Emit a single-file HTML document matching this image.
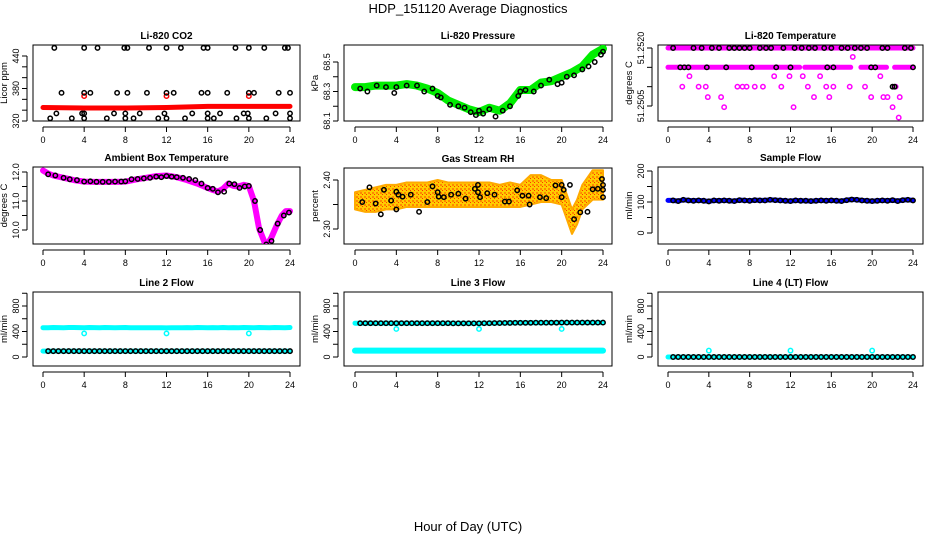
<!DOCTYPE html>
<html><head><meta charset="utf-8">
<style>
html,body{margin:0;padding:0;background:#fff;}
svg{display:block;font-family:"Liberation Sans",Arial,sans-serif;}
.t{font-size:10px;font-weight:bold;text-anchor:middle;}
.tk{font-size:9px;text-anchor:middle;}
.yl{font-size:9.5px;text-anchor:middle;}
</style></head>
<body>
<svg id="c" width="936" height="540" viewBox="0 0 936 540" xmlns="http://www.w3.org/2000/svg">
<text x="468" y="13" font-size="13" text-anchor="middle">HDP_151120  Average Diagnostics</text>
<text x="468" y="531" font-size="13" text-anchor="middle">Hour of Day (UTC)</text>
</svg>
<script>
// ---- data ----
var hourTicks=[0,4,8,12,16,20,24];
var halfHours=[0.5,1,1.5,2,2.5,3,3.5,4,4.5,5,5.5,6,6.5,7,7.5,8,8.5,9,9.5,10,10.5,11,11.5,12,12.5,13,13.5,14,14.5,15,15.5,16,16.5,17,17.5,18,18.5,19,19.5,20,20.5,21,21.5,22,22.5,23,23.5,24];
// CO2
var co2LineH=[0,4,8,12,16,20,24];
var co2LineV=[345,344,344,345,347,347,347];
var co2RedH=[4,12,20];
var co2RedV=[366,366,366];
var co2TopH=[1.1,4,5.3,7.9,8.2,10.3,12,13.4,15.6,16,18.7,20,21.5,23.5,23.8];
var co2TopV=[455,455,455,455,455,455,455,455,455,455,455,455,455,455,455];
var co2MidH=[1.8,4,4.6,7.2,8.2,10.1,12,12.7,15.4,16,17.9,20,20.5,22.9,24];
var co2MidV=[372,372,372,372,372,372,372,372,372,372,372,372,372,372,372];
var co2LowH=[1.3,3.8,4,6.9,8,9.4,11.8,14.5,16,17.2,19.5,19.9,22.6,24];
var co2LowV=[334,334,334,334,334,334,334,334,334,334,334,334,334,334];
var co2BotH=[0.7,2.8,4,6.2,8,8.8,11.2,12,13.8,16,16.6,18.8,20,21.7,24];
var co2BotV=[325,325,325,325,325,325,325,325,325,325,325,325,325,325,325];
// Pressure
var presH=[0,1,2,3,4,5,6,7,8,9,10,11,12,13,14,15,16,17,18,19,20,21,22,23,24];
var presV=[68.33,68.33,68.34,68.34,68.34,68.35,68.34,68.32,68.29,68.24,68.21,68.18,68.16,68.19,68.17,68.22,68.31,68.31,68.36,68.37,68.40,68.43,68.47,68.55,68.59];
var presPtH=[0.5,1.2,2.1,3,3.8,4,5,6,6.7,7.5,8,8.3,9.2,10,10.6,11.2,11.7,12,12.4,13,13.6,14.3,15,15.8,16,16.5,17.3,18,18.8,19.6,20,20.5,21.2,22,22.6,23.2,23.8,24];
var presPtV=[68.32,68.3,68.34,68.33,68.29,68.33,68.34,68.34,68.3,68.32,68.27,68.26,68.21,68.2,68.19,68.16,68.14,68.17,68.15,68.18,68.13,68.17,68.2,68.27,68.3,68.31,68.3,68.34,68.38,68.35,68.36,68.4,68.41,68.45,68.47,68.5,68.55,68.57];
// Li-820 temperature
var tmpTopSeg=[[0,24]];
var tmpMidSeg=[[0,12.9],[13.4,17.9],[18.9,21.4],[22.2,24]];
var tmpTopV=51.2520, tmpMidV=51.2515;
var tmpPtH=[1.4,2.1,3,3.7,3.9,5.2,5.5,6.8,7.3,7.7,8.5,9.3,10.4,11.1,11.9,12.3,13.2,13.7,14.3,14.9,15.5,15.8,16.2,17.8,18.1,19.3,19.9,20.8,21.1,21.5,22,22.3,22.7,22.6];
var tmpPtV=[51.2510,51.25127,51.2510,51.2510,51.25073,51.25073,51.25047,51.2510,51.2510,51.2510,51.2510,51.2510,51.25127,51.2510,51.25127,51.25047,51.25127,51.2510,51.25073,51.25127,51.2510,51.25073,51.2510,51.2510,51.25177,51.2510,51.25073,51.25127,51.25073,51.25073,51.25047,51.2510,51.25073,51.2502];
var tmpBlkH=[0.5,1.2,1.6,2,2.5,3.3,3.8,4.3,5,5.7,6,6.5,7,7.5,8,8.2,9,9.6,10.1,10.6,11.3,12,12.4,13.1,13.8,14.4,15.3,15.6,16,16.2,17,17.6,18.3,18.9,19.5,19.9,20.3,21,21.5,22,22.2,23.2,23.8,24];
var tmpBlkV=[51.2520,51.2515,51.2515,51.2515,51.2520,51.2520,51.2515,51.2520,51.2520,51.2515,51.2520,51.2520,51.2520,51.2520,51.2520,51.2515,51.2520,51.2520,51.2520,51.2515,51.2520,51.2515,51.2520,51.2520,51.2520,51.2520,51.2520,51.2515,51.2520,51.2515,51.2520,51.2520,51.2520,51.2520,51.2520,51.2515,51.2515,51.2520,51.2520,51.2510,51.2510,51.2520,51.2520,51.2515];
// Ambient box temperature
var ambH=[0,0.5,1,2,3,4,5,6,7,8,9,10,11,12,13,14,15,16,16.5,17,17.5,18,18.5,19,19.5,20,20.5,21,21.5,21.8,22.2,22.7,23.2,23.6,24];
var ambV=[12.05,11.95,11.88,11.8,11.72,11.67,11.66,11.66,11.66,11.67,11.74,11.8,11.86,11.88,11.82,11.72,11.6,11.45,11.38,11.33,11.42,11.6,11.52,11.5,11.56,11.52,11.0,10.05,9.6,9.5,9.75,10.15,10.5,10.65,10.65];
var ambPtH=[0.5,1.2,2,2.6,3.3,4,4.6,5.2,5.8,6.4,7,7.6,8,8.6,9.2,9.8,10.4,11,11.5,12,12.5,13,13.6,14.2,14.8,15.4,16,16.5,17,17.6,18.1,18.6,19.1,19.6,20,20.6,21.1,21.7,22.2,22.8,23.4,23.9];
var ambPtV=[11.92,11.88,11.8,11.75,11.72,11.67,11.68,11.66,11.66,11.66,11.67,11.67,11.68,11.75,11.76,11.78,11.8,11.84,11.82,11.86,11.84,11.82,11.8,11.76,11.72,11.6,11.45,11.42,11.3,11.32,11.6,11.58,11.45,11.5,11.52,11.0,10.0,9.5,9.62,10.22,10.5,10.6];
// Gas stream RH
var rhH=[0,1,2,3,4,5,6,7,8,9,10,11,12,13,14,15,16,17,18,19,20,20.5,21,21.5,22,23,24];
var rhUp=[2.375,2.38,2.385,2.39,2.39,2.395,2.395,2.395,2.4,2.395,2.395,2.395,2.395,2.395,2.39,2.395,2.39,2.41,2.41,2.4,2.4,2.37,2.34,2.36,2.39,2.42,2.42];
var rhLo=[2.34,2.335,2.335,2.34,2.34,2.345,2.345,2.345,2.345,2.345,2.345,2.345,2.345,2.345,2.345,2.345,2.345,2.35,2.355,2.355,2.35,2.32,2.29,2.31,2.34,2.36,2.36];
var rhPtH=[0.7,1.4,2,2.5,2.8,3.5,4,4,4.2,4.6,5.4,6.2,7,7.5,8,8.1,8.6,9.3,10,10.7,11.6,11.9,11.9,12.1,12.8,13.5,14.5,14.9,15.7,16.2,16.8,16.9,17.9,18.5,19.4,20,20,20.2,20.8,21.2,21.8,22.5,23,23.5,23.9,24,24,24];
var rhPtV=[2.355,2.385,2.352,2.33,2.38,2.358,2.34,2.376,2.37,2.366,2.37,2.335,2.355,2.387,2.375,2.366,2.365,2.37,2.372,2.362,2.382,2.39,2.375,2.365,2.373,2.37,2.356,2.356,2.379,2.368,2.368,2.35,2.365,2.363,2.389,2.365,2.39,2.38,2.39,2.32,2.334,2.335,2.381,2.382,2.402,2.38,2.39,2.365];
// Flows (half-hour averages)
var sampleV=[105,103,107,105,104,105,104,102,105,104,105,104,103,106,105,104,106,105,105,107,106,105,104,103,105,104,104,103,104,105,104,105,104,103,106,108,107,105,104,103,104,105,104,106,103,106,107,105];
var l2HiV=[460,462,461,460,463,462,461,460,462,461,460,462,461,460,461,462,460,458,458,459,459,458,458,457,458,459,460,461,460,462,461,460,461,460,462,460,461,460,462,461,460,462,461,460,462,461,460,462];
var l2LoV=[92,92,92,92,92,92,92,92,92,92,92,92,92,92,92,92,92,92,92,92,92,92,92,92,92,92,92,92,92,92,92,92,92,92,92,92,92,92,92,92,92,92,92,92,92,92,92,92];
var l3HiV=[530,530,531,530,530,531,530,530,531,530,530,531,530,530,531,530,530,531,528,528,529,528,528,529,530,531,532,533,534,535,536,536,537,537,538,538,538,539,539,540,540,540,540,540,540,540,540,540];
var l3LoV=[100,100,100,100,100,100,100,100,100,100,100,100,100,100,100,100,100,100,100,100,100,100,100,100,100,100,100,100,100,100,100,100,100,100,100,100,100,100,100,100,100,100,100,100,100,100,100,100];
var l4V=[0,0,0,0,0,0,0,0,0,0,0,0,0,0,0,0,0,0,0,0,0,0,0,0,0,0,0,0,0,0,0,0,0,0,0,0,0,0,0,0,0,0,0,0,0,0,0,0];
var calH=[4,12,20];
var l2CalV=[370,370,370];
var l3CalV=[440,440,440];
var l4CalV=[100,100,100];

// ---- drawing ----
var svg=document.getElementById('c');
var NS='http://www.w3.org/2000/svg';
function el(tag,attrs,parent){var e=document.createElementNS(NS,tag);for(var k in attrs)e.setAttribute(k,attrs[k]);(parent||svg).appendChild(e);return e;}
function panel(o){
  var g=el('g',{});
  
  
  o.g=g;
  o.X=function(h){return o.x0+h*(o.x24-o.x0)/24;};
  o.Y=function(v){return o.ya+(v-o.va)*(o.yb-o.ya)/(o.vb-o.va);};
  var box=el('rect',{x:o.bx0,y:o.by0,width:o.bx1-o.bx0,height:o.by1-o.by0,fill:'none',stroke:'#000','stroke-width':1},g);
  
  
  var t=el('text',{x:(o.bx0+o.bx1)/2,y:o.by0-6,'class':'t'},g);t.textContent=o.title;
  
  
  var ax=el('g',{},g);
  
  
  var ty=o.by1+6;
  el('line',{x1:o.X(0),x2:o.X(24),y1:ty,y2:ty,stroke:'#000'},ax);
  hourTicks.forEach(function(h){
    el('line',{x1:o.X(h),x2:o.X(h),y1:ty,y2:ty+5,stroke:'#000'},ax);
    var l=el('text',{x:o.X(h),y:ty+16,'class':'tk'},ax);l.textContent=h;
    
    
  });
  var ay=el('g',{},g);
  
  
  var tx=o.bx0-6;
  var first=o.Y(o.yt[0]),last=o.Y(o.yt[o.yt.length-1]);
  el('line',{x1:tx,x2:tx,y1:first,y2:last,stroke:'#000'},ay);
  o.yt.forEach(function(v){var y=o.Y(v);el('line',{x1:tx,x2:tx-5,y1:y,y2:y,stroke:'#000'},ay);});
  o.yl.forEach(function(v){var y=o.Y(v);var l=el('text',{x:tx-8,y:y,'class':'tk',transform:'rotate(-90 '+(tx-8)+' '+y+')'},ay);l.textContent=o.fmt(v);
    
    });
  var yt=el('text',{x:o.bx0-26,y:(o.by0+o.by1)/2,'class':'yl',transform:'rotate(-90 '+(o.bx0-26)+' '+((o.by0+o.by1)/2)+')'},ay);yt.textContent=o.ylab;
  
  
  var cp='cp'+o.name;var d=el('clipPath',{id:cp},g);el('rect',{x:o.bx0,y:o.by0,width:o.bx1-o.bx0,height:o.by1-o.by0},d);
  o.pg=el('g',{'clip-path':'url(#'+cp+')'},g);
  return o;
}
function thick(o,H,V,col,w,name){
  var pts=H.map(function(h,i){return o.X(h).toFixed(1)+','+o.Y(V[i]).toFixed(1);}).join(' ');
  var p=el('polyline',{points:pts,fill:'none',stroke:col,'stroke-width':w,'stroke-linejoin':'round','stroke-linecap':'round'},o.pg);
  
  
}
function pts(o,H,V,col,name,r,sw){
  var g=el('g',{},o.pg);
  
  
  H.forEach(function(h,i){el('circle',{cx:o.X(h),cy:o.Y(V[i]),r:r||2.2,fill:'none',stroke:col,'stroke-width':sw||1.5},g);});
}
function seg(o,S,v,col,w,name){
  S.forEach(function(s){thick(o,[s[0],s[1]],[v,v],col,w,name);});
}
var f0=function(v){return String(v);};
var flowTicks=[0,200,400,600,800,1000],flowLabs=[0,400,800];

// Li-820 CO2
var p1=panel({name:'co2-panel',title:'Li-820 CO2',ylab:'Licor ppm',bx0:33,bx1:300,by0:45,by1:121,x0:43,x24:290,va:320,ya:121,vb:440,yb:56,yt:[320,340,360,380,400,420,440],yl:[320,380,440],fmt:f0});
thick(p1,co2LineH,co2LineV,'#ff0000',5,'co2-series');
pts(p1,co2RedH,co2RedV,'#ff0000','co2-cal-points');
pts(p1,co2TopH,co2TopV,'#000','co2-avg-high');
pts(p1,co2MidH,co2MidV,'#000','co2-avg-mid');
pts(p1,co2LowH,co2LowV,'#000','co2-avg-low');
pts(p1,co2BotH,co2BotV,'#000','co2-avg-bottom');

// Pressure
var p2=panel({name:'pressure-panel',title:'Li-820 Pressure',ylab:'kPa',bx0:344,bx1:612,by0:45,by1:121,x0:355,x24:603,va:68.1,ya:121,vb:68.5,yb:62,yt:[68.1,68.2,68.3,68.4,68.5],yl:[68.1,68.3,68.5],fmt:function(v){return v.toFixed(1);}});
thick(p2,presH,presV,'#00ee00',8,'pressure-series');
pts(p2,presPtH,presPtV,'#000','pressure-avg-points');

// Li-820 temperature
var p3=panel({name:'temperature-panel',title:'Li-820 Temperature',ylab:'degrees C',bx0:658,bx1:923,by0:45,by1:121,x0:668,x24:913,va:51.2505,ya:106,vb:51.2520,yb:48,yt:[51.2505,51.2510,51.2515,51.2520],yl:[51.2505,51.2520],fmt:function(v){return v.toFixed(4);}});
seg(p3,tmpTopSeg,tmpTopV,'#ff00ff',5,'temperature-series-top');
seg(p3,tmpMidSeg,tmpMidV,'#ff00ff',5,'temperature-series-mid');
pts(p3,tmpPtH,tmpPtV,'#ff00ff','temperature-points');
pts(p3,tmpBlkH,tmpBlkV,'#000','temperature-avg-points');

// Ambient
var p4=panel({name:'ambient-temp-panel',title:'Ambient Box Temperature',ylab:'degrees C',bx0:33,bx1:300,by0:167,by1:244,x0:43,x24:290,va:10,ya:230,vb:12,yb:172,yt:[10,10.5,11,11.5,12],yl:[10,11,12],fmt:function(v){return v.toFixed(1);}});
thick(p4,ambH,ambV,'#ff00ff',6,'ambient-series');
pts(p4,ambPtH,ambPtV,'#000','ambient-avg-points');

// RH
var p5=panel({name:'rh-panel',title:'Gas Stream RH',ylab:'percent',bx0:344,bx1:612,by0:168,by1:244,x0:355,x24:603,va:2.30,ya:229,vb:2.40,yb:180,yt:[2.30,2.35,2.40],yl:[2.30,2.40],fmt:function(v){return v.toFixed(2);}});
(function(){
  var defs=el('defs',{});
  var pat=el('pattern',{id:'rhpat',width:4,height:4,patternUnits:'userSpaceOnUse'},defs);
  el('rect',{width:4,height:4,fill:'#ffcc00'},pat);
  el('rect',{width:2,height:2,fill:'#ff8800'},pat);
  el('rect',{x:2,y:2,width:1,height:1,fill:'#ff3300'},pat);
  var up=rhH.map(function(h,i){return p5.X(h)+','+p5.Y(rhUp[i]);});
  var lo=rhH.map(function(h,i){return p5.X(h)+','+p5.Y(rhLo[i]);}).reverse();
  var poly=el('polygon',{points:up.concat(lo).join(' '),fill:'url(#rhpat)',stroke:'#ffaa00','stroke-width':2,'stroke-linejoin':'round'},p5.pg);
  
  
})();
pts(p5,rhPtH,rhPtV,'#000','rh-avg-points');

// Sample flow
var p6=panel({name:'sample-flow-panel',title:'Sample Flow',ylab:'ml/min',bx0:658,bx1:923,by0:167,by1:244,x0:668,x24:913,va:0,ya:233,vb:200,yb:171,yt:[0,50,100,150,200],yl:[0,100,200],fmt:f0});
thick(p6,[0].concat(halfHours),[sampleV[0]].concat(sampleV),'#0000ff',5,'sample-flow-series');
pts(p6,halfHours,sampleV,'#000','sample-flow-avg-points');

// Line 2
var p7=panel({name:'line2-flow-panel',title:'Line 2 Flow',ylab:'ml/min',bx0:33,bx1:300,by0:292,by1:366,x0:43,x24:290,va:0,ya:357,vb:800,yb:306,yt:flowTicks,yl:flowLabs,fmt:f0});
thick(p7,[0].concat(halfHours),[l2HiV[0]].concat(l2HiV),'#00ffff',5,'line2-high-series');
thick(p7,[0].concat(halfHours),[l2LoV[0]].concat(l2LoV),'#00ffff',5,'line2-low-series');
pts(p7,calH,l2CalV,'#00ffff','line2-cal-points');
pts(p7,halfHours,l2LoV,'#000','line2-avg-points');

// Line 3
var p8=panel({name:'line3-flow-panel',title:'Line 3 Flow',ylab:'ml/min',bx0:344,bx1:612,by0:292,by1:366,x0:355,x24:603,va:0,ya:357,vb:800,yb:306,yt:flowTicks,yl:flowLabs,fmt:f0});
thick(p8,[0].concat(halfHours),[l3HiV[0]].concat(l3HiV),'#00ffff',5,'line3-high-series');
thick(p8,[0].concat(halfHours),[l3LoV[0]].concat(l3LoV),'#00ffff',6,'line3-low-series');
pts(p8,calH,l3CalV,'#00ffff','line3-cal-points');
pts(p8,halfHours,l3HiV,'#000','line3-avg-points');

// Line 4
var p9=panel({name:'line4-flow-panel',title:'Line 4 (LT) Flow',ylab:'ml/min',bx0:658,bx1:923,by0:292,by1:366,x0:668,x24:913,va:0,ya:357,vb:800,yb:306,yt:flowTicks,yl:flowLabs,fmt:f0});
thick(p9,[0].concat(halfHours),[l4V[0]].concat(l4V),'#00ffff',5,'line4-series');
pts(p9,calH,l4CalV,'#00ffff','line4-cal-points');
pts(p9,halfHours,l4V,'#000','line4-avg-points');
</script>
</body></html>
